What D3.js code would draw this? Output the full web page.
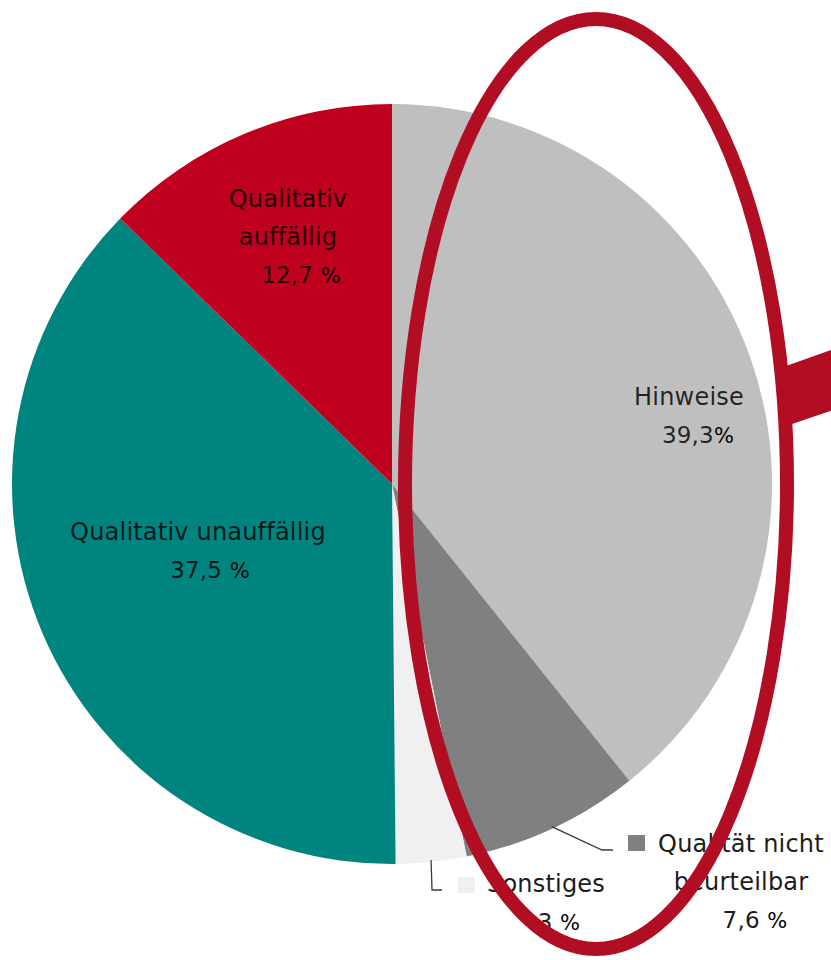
<!DOCTYPE html>
<html lang="de">
<head>
<meta charset="utf-8">
<script src="https://cdn.jsdelivr.net/npm/d3@7"></script>
<style>
  html, body { margin: 0; padding: 0; background: #fff; }
  svg { display: block; }
  text { font-family: "DejaVu Sans", "Open Sans", sans-serif; }
</style>
</head>
<body>
<svg id="chart" width="831" height="960"></svg>
<script>
// Ergebnisverteilung der Qualitätsbewertung (Anteile in %)
const categories = [
  "Hinweise",
  "Qualität nicht beurteilbar",
  "Sonstiges",
  "Qualitativ unauffällig",
  "Qualitativ auffällig"
];
const shares = [39.3, 7.6, 3, 37.5, 12.7];
const valueNumbers = ["39,3", "7,6 ", "3 ", "37,5 ", "12,7 "];
const nameLines = [
  ["Hinweise"],
  ["Qualität nicht", "beurteilbar"],
  ["Sonstiges"],
  ["Qualitativ unauffällig"],
  ["Qualitativ", "auffällig"]
];
const sliceColors = ["#bfbfbf", "#808080", "#f0f0f0", "#00847f", "#c0001f"];

// Label placement (text centre x, first baseline y); outside labels get a legend square and a leader
const labelLayout = {
  "Hinweise":                   { x: 689, y: 405, valueX: 698, inside: true },
  "Qualität nicht beurteilbar": { x: 741, y: 852, valueX: 755, inside: false,
                                  square: [628, 835], elbow: [602, 850], end: [613, 850] },
  "Sonstiges":                  { x: 546, y: 892, valueX: 559, inside: false,
                                  square: [458, 877], elbow: [432, 890], end: [442, 890] },
  "Qualitativ unauffällig":     { x: 198, y: 540, valueX: 210, inside: true },
  "Qualitativ auffällig":       { x: 288, y: 207, valueX: 301, inside: true }
};

const svg = d3.select("#chart");
const cx = 392, cy = 484, radius = 380;
const lineGap = 38;

const pie = d3.pie().sort(null).value(d => d.value);
const arcs = pie(categories.map((c, i) => ({ name: c, value: shares[i], color: sliceColors[i] })));
const arc = d3.arc().innerRadius(0).outerRadius(radius);

const g = svg.append("g").attr("transform", `translate(${cx},${cy})`);
g.selectAll("path.slice")
  .data(arcs)
  .join("path")
  .attr("class", "slice")
  .attr("d", arc)
  .attr("fill", d => d.data.color);

// Leader lines for the two small slices
const leaderColor = "#3a3a3a";
arcs.forEach((d, i) => {
  const L = labelLayout[d.data.name];
  if (L.inside) return;
  const mid = (d.startAngle + d.endAngle) / 2;
  const sx = cx + (radius - 2) * Math.sin(mid);
  const sy = cy - (radius - 2) * Math.cos(mid);
  svg.append("path")
    .attr("d", d3.line()([[sx, sy], L.elbow, L.end]))
    .attr("fill", "none")
    .attr("stroke", leaderColor)
    .attr("stroke-width", 1.3);
  svg.append("rect")
    .attr("x", L.square[0]).attr("y", L.square[1])
    .attr("width", 17).attr("height", 16)
    .attr("fill", d.data.color);
});

// Category names and percentages
arcs.forEach((d, i) => {
  const L = labelLayout[d.data.name];
  const lines = nameLines[i];
  const t = svg.append("g")
    .attr("font-size", 24)
    .attr("letter-spacing", 0.2)
    .attr("text-anchor", "middle");
  lines.forEach((ln, k) => {
    t.append("text")
      .attr("x", L.x)
      .attr("y", L.y + k * lineGap)
      .attr("fill", L.inside ? "#000" : "#1c1c1c")
      .attr("fill-opacity", L.inside ? 0.82 : 1)
      .text(ln);
  });
  const v = t.append("text")
    .attr("x", L.valueX)
    .attr("y", L.y + lines.length * lineGap)
    .attr("font-size", 23);
  v.append("tspan")
    .attr("fill", L.inside ? "#000" : "#1c1c1c")
    .attr("fill-opacity", L.inside ? 0.82 : 1)
    .text(valueNumbers[i]);
  v.append("tspan")
    .attr("fill", "#000")
    .attr("font-size", 21)
    .text("%");
});

// Highlight ring with pointer
const accent = "#b10e24";
svg.append("ellipse")
  .attr("cx", 596).attr("cy", 484)
  .attr("rx", 191).attr("ry", 465)
  .attr("fill", "none")
  .attr("stroke", accent)
  .attr("stroke-width", 14);
svg.append("path")
  .attr("d", d3.line()([[786, 366], [845, 345], [845, 406], [792, 424]]) + "Z")
  .attr("fill", accent);
</script>
</body>
</html>
